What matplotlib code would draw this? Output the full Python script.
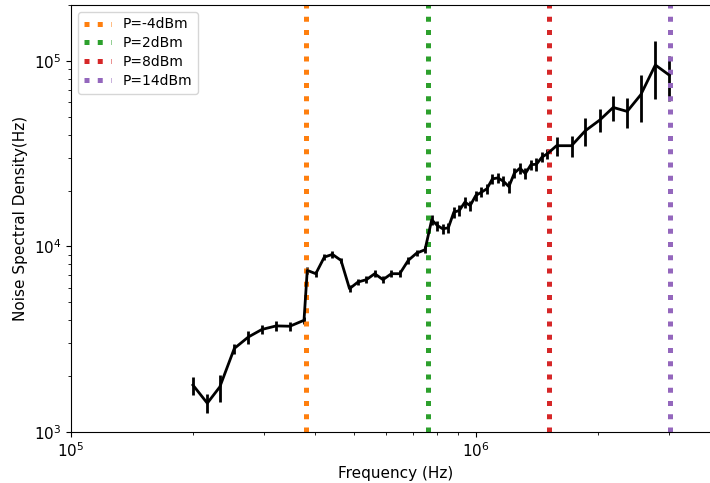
import numpy as np
import matplotlib
matplotlib.use("Agg")
import matplotlib.pyplot as plt

# measured noise spectral density, one block per pump power range
freq_a = [2.00e5, 2.17e5, 2.33e5, 2.53e5, 2.74e5, 2.96e5, 3.21e5, 3.47e5, 3.76e5]
psd_a = [1790, 1430, 1750, 2820, 3250, 3570, 3730, 3715, 4000]
err_a = [200, 165, 290, 175, 270, 200, 230, 200, 165]

freq_b = [3.83e5, 4.02e5, 4.22e5, 4.42e5, 4.64e5, 4.87e5, 5.11e5, 5.36e5,
          5.62e5, 5.89e5, 6.18e5, 6.48e5, 6.80e5, 7.13e5, 7.48e5]
psd_b = [7430, 7130, 8760, 9060, 8410, 5920, 6430, 6620,
         7130, 6620, 7130, 7130, 8410, 9200, 9600]
err_b = [300, 250, 300, 350, 250, 250, 250, 300,
         300, 300, 300, 300, 350, 350, 400]

freq_c = [7.77e5, 8.02e5, 8.27e5, 8.54e5, 8.81e5, 9.09e5, 9.38e5, 9.67e5,
          9.98e5, 1.030e6, 1.063e6, 1.097e6, 1.132e6, 1.168e6, 1.205e6,
          1.243e6, 1.283e6, 1.323e6, 1.366e6, 1.409e6, 1.454e6, 1.500e6]
psd_c = [13920, 12970, 12450, 12600, 15290, 15620, 17310, 16610,
         18800, 19590, 20430, 23120, 23410, 22440, 21020,
         24850, 26420, 24690, 27600, 27710, 30280, 31620]
err_c = [900, 800, 750, 800, 1000, 1000, 1100, 1000,
         1200, 1200, 1300, 1500, 1400, 1400, 1600,
         1500, 1900, 1700, 1800, 2100, 1800, 2000]

freq_d = [1.58e6, 1.72e6, 1.86e6, 2.02e6, 2.18e6, 2.36e6, 2.55e6, 2.77e6, 3.00e6]
psd_d = [34900, 34900, 42000, 48000, 56100, 53400, 65700, 95000, 83700]
err_d = [4100, 4500, 7300, 6700, 8600, 9700, 18600, 33000, 22700]

# pump power markers
powers = ["P=-4dBm", "P=2dBm", "P=8dBm", "P=14dBm"]
power_freq = [3.8e5, 7.6e5, 1.51e6, 3.01e6]
power_colors = ["tab:orange", "tab:green", "tab:red", "tab:purple"]

freq = np.concatenate([freq_a, freq_b, freq_c, freq_d])
psd = np.concatenate([psd_a, psd_b, psd_c, psd_d])
err = np.concatenate([err_a, err_b, err_c, err_d])

fig = plt.figure(figsize=(7.1, 4.83), dpi=100)
# axes run past the right edge, like the cropped original
ax = fig.add_axes([71 / 710, 51 / 483, 649 / 710, 427 / 483])

ax.errorbar(freq, psd, yerr=err, color="black", lw=2, elinewidth=2, capsize=0)

for label, f, c in zip(powers, power_freq, power_colors):
    ax.axvline(f, color=c, linestyle=":", lw=3.6, label=label)

ax.set_xscale("log")
ax.set_yscale("log")
ax.set_xlim(1e5, 4e6)
ax.set_ylim(1e3, 2e5)
ax.set_xlabel("Frequency (Hz)", fontsize=11)
ax.set_ylabel("Noise Spectral Density(Hz)", fontsize=11)
ax.tick_params(which="major", labelsize=11)
ax.legend(loc="upper left", labelspacing=0.35)

fig.savefig("out.png", dpi=100)
